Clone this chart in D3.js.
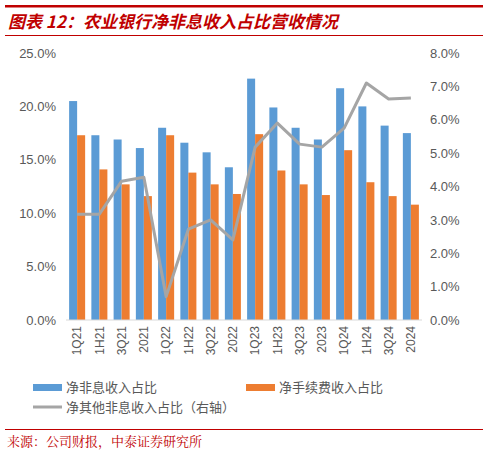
<!DOCTYPE html>
<html><head><meta charset="utf-8">
<script src="https://cdn.jsdelivr.net/npm/d3@7"></script>
<style>body{margin:0;background:#fff}</style>
</head><body><div id="chart"></div>
<script>
const categories = ["1Q21","1H21","3Q21","2021","1Q22","1H22","3Q22","2022","1Q23","1H23","3Q23","2023","1Q24","1H24","3Q24","2024"];
const nonInterest = [20.5,17.3,16.9,16.1,18.0,16.6,15.7,14.3,22.6,19.9,18.0,16.9,21.7,20.0,18.2,17.5];
const feeIncome = [17.3,14.1,12.7,11.6,17.3,13.8,12.7,11.8,17.4,14.0,12.7,11.7,15.9,12.9,11.6,10.8];
const otherNonInterest = [3.17,3.17,4.16,4.28,0.7,2.72,3.0,2.4,5.18,5.9,5.27,5.18,5.75,7.1,6.62,6.65];
const leftTicks = [0,5,10,15,20,25];
const rightTicks = [0,1,2,3,4,5,6,7,8];

const W = 488, H = 453;
const svg = d3.select("#chart").append("svg").attr("width", W).attr("height", H)
  .style("font-family", "Liberation Sans, Arial, sans-serif");
const cjk = "'Noto Sans CJK SC', sans-serif";
const red = "#c00000";

// header
svg.append("rect").attr("x", 5).attr("y", 5).attr("width", 478).attr("height", 2.5).attr("fill", red);
svg.append("text").attr("x", 8).attr("y", 28).attr("fill", red)
  .style("font-family", cjk).style("font-size", "17px").style("font-weight", "bold").style("font-style", "italic")
  .text("图表 12：农业银行净非息收入占比营收情况");
svg.append("rect").attr("x", 5).attr("y", 35).attr("width", 478).attr("height", 1).attr("fill", red);

const x0 = 66, x1 = 422, yTop = 53, yBot = 320;
const x = d3.scaleBand().domain(categories).range([x0, x1]).paddingInner(0.28).paddingOuter(0.14);
const xs = d3.scaleBand().domain([0, 1]).range([0, x.bandwidth()]);
const yL = d3.scaleLinear().domain([0, 25]).range([yBot, yTop]);
const yR = d3.scaleLinear().domain([0, 8]).range([yBot, yTop]);

const g = svg.append("g");
g.selectAll(".b1").data(categories).join("rect")
  .attr("x", d => x(d) + xs(0)).attr("width", xs.bandwidth())
  .attr("y", (d, i) => yL(nonInterest[i])).attr("height", (d, i) => yBot - yL(nonInterest[i]))
  .attr("fill", "#5b9bd5");
g.selectAll(".b2").data(categories).join("rect")
  .attr("x", d => x(d) + xs(1)).attr("width", xs.bandwidth())
  .attr("y", (d, i) => yL(feeIncome[i])).attr("height", (d, i) => yBot - yL(feeIncome[i]))
  .attr("fill", "#ed7d31");

svg.append("line").attr("x1", x0).attr("x2", x1).attr("y1", yBot).attr("y2", yBot)
  .attr("stroke", "#d9d9d9");

const line = d3.line().x((d, i) => x(categories[i]) + x.bandwidth() / 2).y(d => yR(d));
svg.append("path").datum(otherNonInterest).attr("d", line)
  .attr("fill", "none").attr("stroke", "#a5a5a5").attr("stroke-width", 3).attr("stroke-linejoin", "round");

const fmt = d => d.toFixed(1) + "%";
svg.append("g").attr("transform", `translate(${x0},0)`)
  .call(d3.axisLeft(yL).tickValues(leftTicks).tickFormat(fmt).tickSize(0).tickPadding(10))
  .call(a => a.select(".domain").remove())
  .selectAll("text").attr("fill", "#595959").style("font-size", "13px");
svg.append("g").attr("transform", `translate(${x1},0)`)
  .call(d3.axisRight(yR).tickValues(rightTicks).tickFormat(fmt).tickSize(0).tickPadding(8))
  .call(a => a.select(".domain").remove())
  .selectAll("text").attr("fill", "#595959").style("font-size", "13px");

svg.append("g").attr("transform", `translate(0,${yBot})`)
  .call(d3.axisBottom(x).tickSize(0))
  .call(a => a.select(".domain").remove())
  .selectAll("text").attr("fill", "#595959").style("font-size", "12px")
  .attr("transform", "rotate(-90)").attr("text-anchor", "end")
  .attr("x", -6).attr("y", 0).attr("dy", "0.35em");

// legend
const leg = svg.append("g").style("font-family", cjk).style("font-size", "13px").attr("fill", "#595959");
leg.append("rect").attr("x", 33).attr("y", 384).attr("width", 29).attr("height", 7).attr("fill", "#5b9bd5");
leg.append("text").attr("x", 66).attr("y", 392).text("净非息收入占比");
leg.append("rect").attr("x", 246).attr("y", 384).attr("width", 29).attr("height", 7).attr("fill", "#ed7d31");
leg.append("text").attr("x", 279).attr("y", 392).text("净手续费收入占比");
leg.append("line").attr("x1", 33).attr("x2", 62).attr("y1", 407).attr("y2", 407).attr("stroke", "#a5a5a5").attr("stroke-width", 3);
leg.append("text").attr("x", 66).attr("y", 412).text("净其他非息收入占比（右轴）");

// source
svg.append("rect").attr("x", 5).attr("y", 429).attr("width", 478).attr("height", 1).attr("fill", red);
svg.append("text").attr("x", 7).attr("y", 446).attr("fill", red)
  .style("font-family", "'Noto Serif CJK SC', 'Noto Sans CJK SC', serif").style("font-size", "13px")
  .text("来源：公司财报，中泰证券研究所");
</script></body></html>
